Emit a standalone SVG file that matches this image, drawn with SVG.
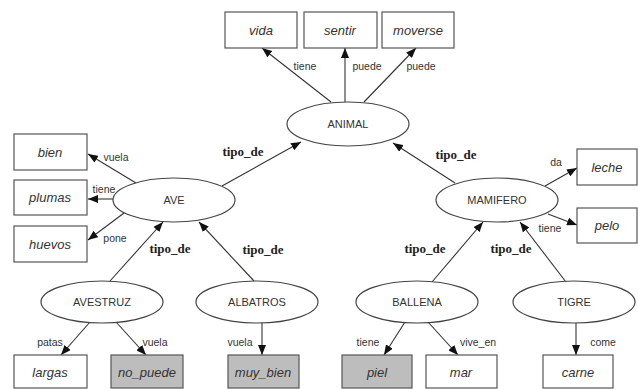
<svg xmlns="http://www.w3.org/2000/svg" width="638" height="389" viewBox="0 0 638 389">
<defs>
<marker id="arr" markerUnits="userSpaceOnUse" markerWidth="10" markerHeight="8" refX="10" refY="4" orient="auto"><path d="M0,0 L10,4 L0,8 z" fill="#111"/></marker>
<style>
.e{stroke:#333;stroke-width:1.1;fill:none;marker-end:url(#arr)}
.el{fill:#fff;stroke:#444;stroke-width:1.2}
.bx{fill:#fff;stroke:#555;stroke-width:1.2}
.gr{fill:#bdbdbd;stroke:#555;stroke-width:1.2}
.nt{font-family:"Liberation Sans",Arial,sans-serif;font-size:11px;fill:#333;text-anchor:middle}
.bt{font-family:"Liberation Sans",Arial,sans-serif;font-size:13px;font-style:italic;fill:#333;text-anchor:middle}
.lt{font-family:"Liberation Sans",Arial,sans-serif;font-size:10.5px;fill:#333;text-anchor:middle}
.tp{font-family:"Liberation Serif","Times New Roman",serif;font-size:13px;font-weight:bold;fill:#222;text-anchor:middle}
</style>
</defs>
<rect width="638" height="389" fill="#fff"/>
<g id="connectors">
<line class="e" x1="331" y1="102" x2="262" y2="48"/>
<line class="e" x1="345" y1="102" x2="345" y2="48"/>
<line class="e" x1="364" y1="102" x2="416" y2="48"/>
<line class="e" x1="222" y1="186" x2="301" y2="142"/>
<line class="e" x1="455" y1="183" x2="393" y2="143"/>
<line class="e" x1="136" y1="183" x2="88" y2="154"/>
<line class="e" x1="113" y1="199" x2="88" y2="199"/>
<line class="e" x1="124" y1="213" x2="88" y2="240"/>
<line class="e" x1="545" y1="186" x2="577" y2="168"/>
<line class="e" x1="548" y1="214" x2="577" y2="225"/>
<line class="e" x1="110" y1="281" x2="163" y2="222"/>
<line class="e" x1="254" y1="281" x2="199" y2="222"/>
<line class="e" x1="432" y1="282" x2="483" y2="222"/>
<line class="e" x1="566" y1="282" x2="520" y2="222"/>
<line class="e" x1="90" y1="322" x2="61" y2="355"/>
<line class="e" x1="116" y1="322" x2="146" y2="355"/>
<line class="e" x1="262" y1="323" x2="262" y2="355"/>
<line class="e" x1="405" y1="322" x2="384" y2="355"/>
<line class="e" x1="428" y1="322" x2="458" y2="355"/>
<line class="e" x1="576" y1="323" x2="576" y2="355"/>
<text class="lt" x="305" y="70">tiene</text>
<text class="lt" x="367" y="70">puede</text>
<text class="lt" x="421" y="70">puede</text>
<text class="tp" x="243" y="156">tipo_de</text>
<text class="tp" x="456" y="159">tipo_de</text>
<text class="lt" x="116" y="161">vuela</text>
<text class="lt" x="104" y="193">tiene</text>
<text class="lt" x="115" y="242">pone</text>
<text class="lt" x="556" y="166">da</text>
<text class="lt" x="550" y="232">tiene</text>
<text class="tp" x="170" y="253">tipo_de</text>
<text class="tp" x="263" y="254">tipo_de</text>
<text class="tp" x="425" y="253">tipo_de</text>
<text class="tp" x="511" y="253">tipo_de</text>
<text class="lt" x="50" y="346">patas</text>
<text class="lt" x="155" y="346">vuela</text>
<text class="lt" x="240" y="346">vuela</text>
<text class="lt" x="368" y="346">tiene</text>
<text class="lt" x="478" y="346">vive_en</text>
<text class="lt" x="603" y="346">come</text>
</g>
<g id="ANIMAL"><ellipse class="el" cx="348" cy="124" rx="61" ry="22"/><text class="nt" x="348" y="128">ANIMAL</text></g>
<g id="vida"><rect class="bx" x="225" y="12" width="72" height="36"/><text class="bt" x="261" y="35">vida</text></g>
<g id="sentir"><rect class="bx" x="304" y="12" width="73" height="36"/><text class="bt" x="340" y="35">sentir</text></g>
<g id="moverse"><rect class="bx" x="382" y="12" width="72" height="36"/><text class="bt" x="418" y="35">moverse</text></g>
<g id="AVE"><ellipse class="el" cx="174" cy="200" rx="61" ry="22"/><text class="nt" x="174" y="204">AVE</text></g>
<g id="MAMIFERO"><ellipse class="el" cx="497" cy="200" rx="61" ry="22"/><text class="nt" x="497" y="204">MAMIFERO</text></g>
<g id="bien"><rect class="bx" x="14" y="134" width="73" height="36"/><text class="bt" x="50" y="157">bien</text></g>
<g id="plumas"><rect class="bx" x="14" y="180" width="73" height="35"/><text class="bt" x="50" y="202">plumas</text></g>
<g id="huevos"><rect class="bx" x="14" y="226" width="73" height="36"/><text class="bt" x="50" y="249">huevos</text></g>
<g id="leche"><rect class="bx" x="577" y="149" width="60" height="36"/><text class="bt" x="607" y="172">leche</text></g>
<g id="pelo"><rect class="bx" x="577" y="208" width="60" height="35"/><text class="bt" x="607" y="230">pelo</text></g>
<g id="AVESTRUZ"><ellipse class="el" cx="102" cy="302" rx="61" ry="21"/><text class="nt" x="102" y="306">AVESTRUZ</text></g>
<g id="ALBATROS"><ellipse class="el" cx="257" cy="302" rx="61" ry="21"/><text class="nt" x="257" y="306">ALBATROS</text></g>
<g id="BALLENA"><ellipse class="el" cx="417" cy="302" rx="61" ry="21"/><text class="nt" x="417" y="306">BALLENA</text></g>
<g id="TIGRE"><ellipse class="el" cx="574" cy="302" rx="61" ry="21"/><text class="nt" x="574" y="306">TIGRE</text></g>
<g id="largas"><rect class="bx" x="14" y="355" width="73" height="33"/><text class="bt" x="50" y="377">largas</text></g>
<g id="no_puede"><rect class="gr" x="111" y="355" width="72" height="33"/><text class="bt" x="147" y="377">no_puede</text></g>
<g id="muy_bien"><rect class="gr" x="228" y="355" width="71" height="33"/><text class="bt" x="263" y="377">muy_bien</text></g>
<g id="piel"><rect class="gr" x="342" y="355" width="70" height="33"/><text class="bt" x="377" y="377">piel</text></g>
<g id="mar"><rect class="bx" x="426" y="355" width="71" height="33"/><text class="bt" x="461" y="377">mar</text></g>
<g id="carne"><rect class="bx" x="543" y="355" width="70" height="33"/><text class="bt" x="578" y="377">carne</text></g>
</svg>
